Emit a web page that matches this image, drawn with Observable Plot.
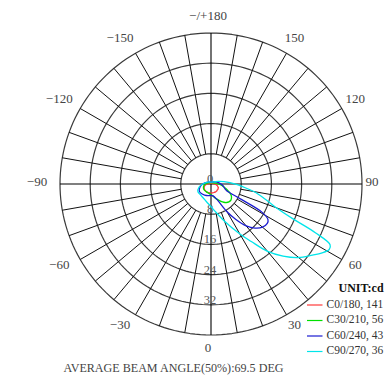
<!DOCTYPE html>
<html><head><meta charset="utf-8">
<script src="https://cdn.jsdelivr.net/npm/d3@7"></script>
<script src="https://cdn.jsdelivr.net/npm/@observablehq/plot@0.6"></script>
<style>
body{margin:0;background:#fff;}
#chart{width:385px;height:375px;overflow:hidden;}
</style></head><body><div id="chart"></div>
<script>
// ---- data ----
const angles = [-180,-150,-120,-90,-75,-60,-45,-30,-15,0,10,20,30,35,40,45,50,55,58,61,63,65,67,70,75,80,85,90,100,110,120,150,180];
const c0   = [0.2,0.2,0.3,1.0,1.7,2.1,2.3,2.4,2.4,2.4,2.4,2.4,2.4,2.4,2.4,2.3,2.3,2.3,2.2,2.2,2.2,2.1,2.0,1.9,1.7,1.5,1.3,1.0,0.6,0.4,0.3,0.2,0.2];
const c30  = [0.3,0.4,0.6,1.5,2.0,2.3,2.4,2.4,2.5,2.8,3.3,4.2,5.3,5.9,6.4,6.7,6.8,6.6,6.4,6.1,5.8,5.5,5.1,4.6,3.8,3.2,2.6,2.0,1.2,0.8,0.6,0.4,0.3];
const c60  = [0.5,0.6,1.0,2.2,3.0,3.6,3.6,3.4,3.2,3.0,3.2,4.2,8.5,11.5,14.5,16.5,17.8,18.2,17.8,15.5,9.0,5.5,4.5,4.0,3.6,3.3,3.0,2.6,2.0,1.5,1.2,0.6,0.5];
const c90  = [0.5,0.6,1.0,2.2,3.3,4.0,4.0,4.2,4.8,6.0,7.6,10.5,15.3,18.6,23.3,27.0,30.3,32.8,34.5,35.8,35.4,30.5,23.5,18.4,14.5,11.5,8.5,6.5,3.5,2.0,1.2,0.6,0.5];
const seriesNames = ["C0/180","C30/210","C60/240","C90/270"];
const beamAngles = ["141","56","43","36"];
const ringValues = [8,16,24,32,40];
const ringLabels = [0,8,16,24,32];
const angleTicks = [0,30,60,90,120,150,180,-150,-120,-90,-60,-30];
const angleTickLabels = ["0","30","60","90","120","150","\u2212/+180","\u2212150","\u2212120","\u221290","\u221260","\u221230"];
const unitLabel = "UNIT:cd";
const caption = "AVERAGE BEAM ANGLE(50%):69.5 DEG";
const colors = ["#ff3b3b","#00e000","#1c1cd0","#00e5ea"];

// ---- layout ----
const W = 385, H = 375, CX = 210.5, CY = 183.5, RPX = 151, RMAX = 40;
const k = RPX / RMAX;
const invX = px => (px - CX) / k;
const invY = py => (py - CY) / k;
const rad = a => a * Math.PI / 180;
const px = (r, a) => r * Math.sin(rad(a));
const py = (r, a) => r * Math.cos(rad(a));
const serif = "'Liberation Serif','DejaVu Serif',serif";

// curve rows
const seriesVals = [c0, c30, c60, c90];
const curveRows = [];
seriesVals.forEach((vals, si) => {
  angles.forEach((a, i) => curveRows.push({s: seriesNames[si], x: px(vals[i], a), y: py(vals[i], a)}));
});

// ring rows
const ringRows = [];
ringValues.forEach(r => { for (let a = 0; a <= 360; a += 2) ringRows.push({r, x: px(r, a), y: py(r, a)}); });

// spokes
const spokes = d3.range(-170, 181, 10).filter(a => a % 90 !== 0);
const axes = [0, 90];

// angle label positions
const LR = 166 / k;
const labelShift = a => a < 0 ? -7 : (a === 90 ? -4 : (a > 0 && a < 180 ? 1.5 : -2));
const angleRows = angleTicks.map((a, i) => ({
  label: angleTickLabels[i],
  x: px(LR, a) + (labelShift(a) - 1) / k,
  y: py(LR, a) - 2.5 / k
}));

// legend
const legendRows = seriesNames.map((n, i) => ({
  n, label: `${n}, ${beamAngles[i]}`, y: invY(303.5 + i * 15.5)
}));

const chart = Plot.plot({
  width: W, height: H,
  margin: 0,
  x: {domain: [invX(0), invX(W)], range: [0, W], axis: null},
  y: {domain: [invY(0), invY(H)], range: [0, H], axis: null},
  color: {domain: seriesNames, range: colors},
  style: {fontFamily: serif, background: "white", overflow: "hidden"},
  marks: [
    Plot.line(ringRows, {x: "x", y: "y", z: "r", stroke: "#3a3a3a", strokeWidth: 1.2}),
    Plot.link(spokes, {x1: a => px(8, a), y1: a => py(8, a), x2: a => px(40, a), y2: a => py(40, a), stroke: "#111", strokeWidth: 1}),
    Plot.link(axes, {x1: a => px(-40, a), y1: a => py(-40, a), x2: a => px(40, a), y2: a => py(40, a), stroke: "#000", strokeWidth: 1.1}),
    Plot.text(ringLabels, {x: 0, y: d => d, text: d => String(d), dx: -1, dy: -5, fontSize: 12.5, fill: "#555", lineAnchor: "middle"}),
    Plot.text(angleRows, {x: "x", y: "y", text: "label", fontSize: 13, fill: "#444", lineAnchor: "middle"}),
    Plot.line(curveRows, {x: "x", y: "y", z: "s", stroke: "s", strokeWidth: 1.3, curve: "catmull-rom"}),
    Plot.text([unitLabel], {x: invX(338), y: invY(287.5), text: d => d, textAnchor: "start", lineAnchor: "middle", fontSize: 12, fontWeight: "bold", fill: "#111"}),
    Plot.link(legendRows, {x1: invX(306.5), x2: invX(322), y1: d => d.y + 1 / k, y2: d => d.y + 1 / k, stroke: "n", strokeWidth: 1.2}),
    Plot.text(legendRows, {x: invX(326), y: "y", text: "label", textAnchor: "start", lineAnchor: "middle", fontSize: 11.5, fill: "#333"}),
    Plot.text([caption], {x: invX(63), y: invY(367), text: d => d, textAnchor: "start", lineAnchor: "middle", fontSize: 13, fill: "#444"})
  ]
});
document.getElementById("chart").appendChild(chart);
d3.select(chart).selectAll("text").filter(function() { return this.textContent === caption; })
  .attr("textLength", 220).attr("lengthAdjust", "spacingAndGlyphs");
</script></body></html>
